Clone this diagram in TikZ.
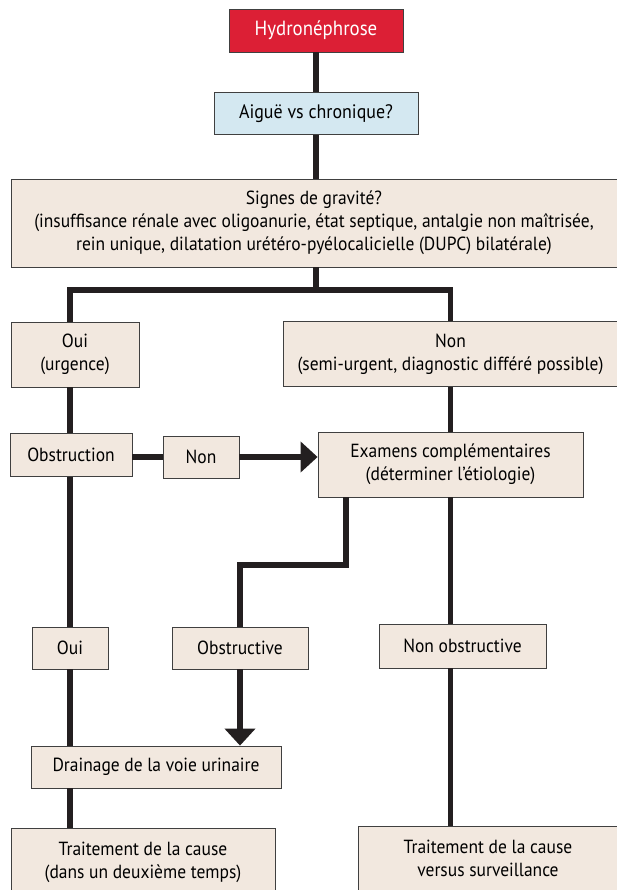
\documentclass[tikz,border=0pt]{standalone}
\usepackage{fontspec}
\setmainfont[FakeStretch=0.92]{PT Sans}
\usetikzlibrary{positioning}
\usetikzlibrary{arrows.meta}
\definecolor{hydrored}{HTML}{DC1F35}
\definecolor{askblue}{HTML}{D4E8F1}
\definecolor{stepbeige}{HTML}{F2E8DF}
\definecolor{linkblack}{HTML}{231F20}
\tikzstyle{start} = [rectangle, minimum width=174pt, minimum height=43pt, inner sep=0pt, text centered, draw=black!75, fill=hydrored, text=white, font=\fontsize{20.5}{24}\selectfont]
\tikzstyle{question} = [rectangle, minimum width=204pt, minimum height=42pt, inner sep=0pt, text centered, draw=black!75, fill=askblue, font=\fontsize{19.5}{24}\selectfont]
\tikzstyle{process} = [rectangle, minimum height=42pt, inner sep=0pt, align=center, draw=black!75, fill=stepbeige]
\tikzstyle{link} = [line width=5.5pt, draw=linkblack]
\tikzstyle{arrow} = [link, -{Triangle[length=17pt, width=30pt]}]

\begin{document}
\begin{tikzpicture}[x=1pt, y=-1pt, line width=0.8pt, font=\fontsize{19}{23}\selectfont]

        \useasboundingbox (0,0) rectangle (617,890);
        \clip (0,0) rectangle (617,890);

        % Top of the tree
        \node[start] (hydro) at (316,30.5) {Hydronéphrose};
        \node[question, below=40pt of hydro] (aigue) {Aiguë vs chronique?};
        \node[process, minimum width=606pt, minimum height=88pt] (gravite) at (314,223) {Signes de gravité?\\(insuffisance rénale avec oligoanurie, état septique, antalgie non maîtrisée,\\rein unique, dilatation urétéro-pyélocalicielle (DUPC) bilatérale)};

        % Two branches
        \node[process, minimum width=128pt, minimum height=65pt] (urgence) at (75,354.5) {Oui\\(urgence)};
        \node[process, minimum width=335pt, minimum height=65pt] (differe) at (450.5,354) {Non\\(semi-urgent, diagnostic différé possible)};

        % Left branch
        \node[process, minimum width=122pt, minimum height=43pt] (obstruction) at (71,455) {Obstruction};
        \node[process, minimum width=76pt] (nonobs) at (201,457) {Non};
        \node[process, minimum width=76pt] (oui) at (70,648) {Oui};
        \node[process, minimum width=250pt] (drainage) at (156,767) {Drainage de la voie urinaire};
        \node[process, minimum width=264pt, anchor=north, inner ysep=14pt] (causeA) at (143,828) {Traitement de la cause\\(dans un deuxième temps)\\~};

        % Right branch
        \node[process, minimum width=265pt, minimum height=65pt] (examens) at (450.5,464.5) {Examens complémentaires\\(déterminer l’étiologie)};
        \node[process, minimum width=136pt] (obstructive) at (240,648) {Obstructive};
        \node[process, minimum width=167pt, minimum height=44pt] (nonobstructive) at (462.5,646) {Non obstructive};
        \node[process, minimum width=260pt, anchor=north, inner ysep=14pt] (causeB) at (488,826) {Traitement de la cause\\versus surveillance\\~};

        \coordinate (split) at (316,290);
        \coordinate (stair) at (346,565);

        % Connections
        \draw[link] (hydro) -- (aigue);
        \draw[link] (aigue) -- (aigue |- gravite.north);
        \draw[link] (hydro |- gravite.south) -- (split);
        \draw[link] (split) -| (urgence.north -| oui);
        \draw[link] (split) -| (differe.north);
        \draw[link] (urgence.south -| oui) -- (obstruction.north -| oui);
        \draw[link] (obstruction.south -| oui) -- (oui);
        \draw[link] (oui) -- (drainage.north -| oui);
        \draw[link] (drainage.south -| oui) -- (causeA.north -| oui);
        \draw[link] (obstruction.east |- nonobs) -- (nonobs);
        \draw[arrow] (nonobs) -- (nonobs -| examens.west);
        \draw[link] (differe) -- (examens);
        \draw[link] (examens.south -| stair) -- (stair) -| (obstructive.north);
        \draw[arrow] (obstructive) -- (obstructive |- drainage.north);
        \draw[link] (examens.south) -- (nonobstructive.north -| examens);
        \draw[link] (nonobstructive.south -| examens) -- (causeB.north -| examens);

    \end{tikzpicture}
\end{document}
